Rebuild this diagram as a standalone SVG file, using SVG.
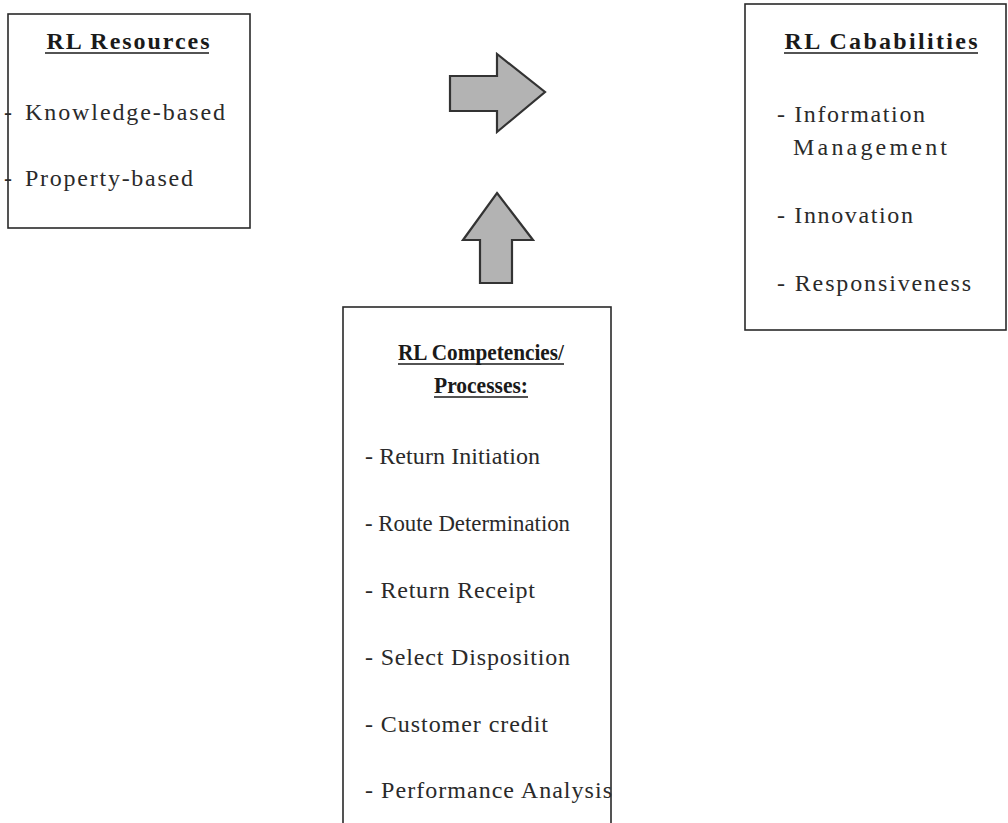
<svg xmlns="http://www.w3.org/2000/svg" width="1008" height="823" viewBox="0 0 1008 823">
<style>
.box{fill:#fff;stroke:#2a2a2a;stroke-width:1.6}
.t{font-family:"Liberation Serif","Times New Roman",serif;font-size:24px;fill:#2a2a2a}
.h{font-family:"Liberation Serif","Times New Roman",serif;font-size:24px;font-weight:bold;fill:#1a1a1a}
.h2{font-family:"Liberation Serif","Times New Roman",serif;font-size:24px;font-weight:bold;fill:#1a1a1a}
.ul{stroke:#1a1a1a;stroke-width:1.6}
.arrow{fill:#b3b3b3;stroke:#333;stroke-width:2.2;stroke-linejoin:miter}
</style>
<rect width="1008" height="823" fill="#fff"/>
<g id="resources">
<rect class="box" x="8" y="14" width="242" height="214"/>
<text class="h" x="128" y="49" text-anchor="middle" textLength="163" lengthAdjust="spacing">RL Resources</text>
<line class="ul" x1="45" y1="53" x2="209" y2="53"/>
<text class="t" x="4" y="120">-</text>
<text class="t" x="25" y="120" textLength="200" lengthAdjust="spacing">Knowledge-based</text>
<text class="t" x="4" y="186">-</text>
<text class="t" x="25" y="186" textLength="168" lengthAdjust="spacing">Property-based</text>
</g>
<g id="capabilities">
<rect class="box" x="745" y="4" width="261" height="326"/>
<text class="h" x="881" y="49" text-anchor="middle" textLength="193" lengthAdjust="spacing">RL Cababilities</text>
<line class="ul" x1="784" y1="53" x2="978" y2="53"/>
<text class="t" x="777" y="122" textLength="148" lengthAdjust="spacing">- Information</text>
<text class="t" x="793" y="155" textLength="154" lengthAdjust="spacing">Management</text>
<text class="t" x="777" y="223" textLength="136" lengthAdjust="spacing">- Innovation</text>
<text class="t" x="777" y="291" textLength="194" lengthAdjust="spacing">- Responsiveness</text>
</g>
<g id="competencies">
<rect class="box" x="343" y="307" width="268" height="530"/>
<text class="h2" x="481" y="360" text-anchor="middle" textLength="166" lengthAdjust="spacingAndGlyphs">RL Competencies/</text>
<line class="ul" x1="398" y1="364" x2="564" y2="364"/>
<text class="h2" x="481" y="393" text-anchor="middle" textLength="94" lengthAdjust="spacingAndGlyphs">Processes:</text>
<line class="ul" x1="434" y1="397" x2="528" y2="397"/>
<text class="t" x="365" y="464" textLength="175" lengthAdjust="spacing">- Return Initiation</text>
<text class="t" x="365" y="531" textLength="205" lengthAdjust="spacingAndGlyphs">- Route Determination</text>
<text class="t" x="365" y="598" textLength="170" lengthAdjust="spacing">- Return Receipt</text>
<text class="t" x="365" y="665" textLength="205" lengthAdjust="spacing">- Select Disposition</text>
<text class="t" x="365" y="732" textLength="183" lengthAdjust="spacing">- Customer credit</text>
<text class="t" x="365" y="798" textLength="247" lengthAdjust="spacing">- Performance Analysis</text>
</g>
<g id="connectors">
<polygon class="arrow" points="450,76 497,76 497,54 545,92 497,132 497,111 450,111"/>
<polygon class="arrow" points="497,193 533,240 512,240 512,283 480,283 480,240 463,240"/>
</g>
</svg>
